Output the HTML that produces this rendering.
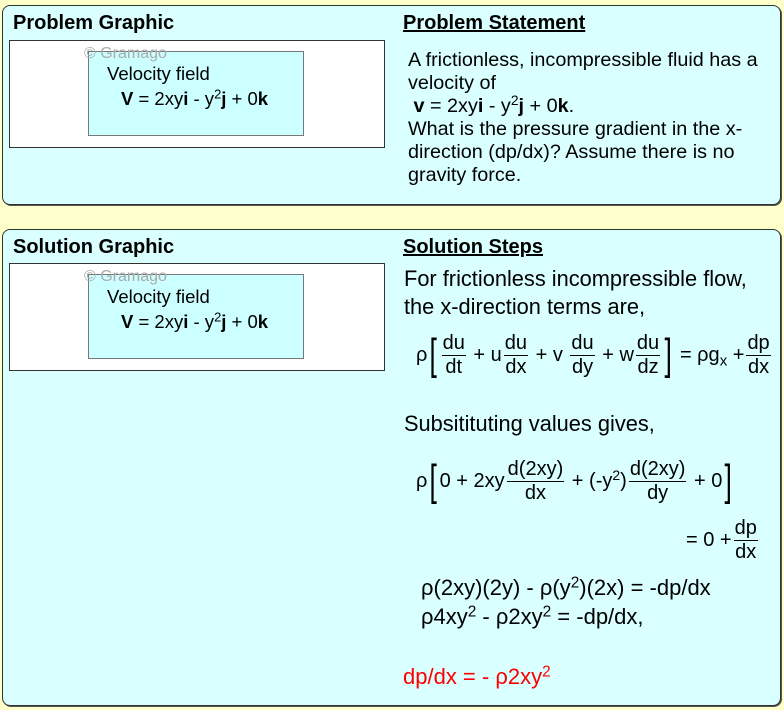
<!DOCTYPE html>
<html><head><meta charset="utf-8"><style>
body{margin:0;width:784px;height:710px;background:#ffffcc;position:relative;overflow:hidden;font-family:"Liberation Sans",sans-serif;color:#000}
.panel{position:absolute;left:2px;width:777px;background:#d9ffff;border:1.5px solid #333;border-radius:8px;box-shadow:1px 1px 0 #555}
.a{position:absolute;line-height:1;white-space:nowrap}
.h{font-weight:bold;font-size:20px}
.u{text-decoration:underline}
.wb{position:absolute;left:9px;width:374px;height:106px;background:#fff;border:1.5px solid #333}
.cb{position:absolute;left:88px;width:214px;height:83px;background:#ccffff;border:1px solid #777}
.row{position:absolute;display:flex;align-items:center;font-size:20px;line-height:1;white-space:nowrap}
.fr{display:inline-flex;flex-direction:column;align-items:center;margin:0 2px}
.fr span{padding:0 1px;line-height:1.12}
.fr .n{border-bottom:1.3px solid #000}
.br{font-size:44px;font-weight:100;transform:scaleX(.6);line-height:1}
sup{font-size:0.7em;vertical-align:0.5em;line-height:0}
sub{font-size:0.75em;vertical-align:-0.3em;line-height:0}
</style></head><body>
<div class="panel" style="top:5px;height:198px"></div>
<div class="panel" style="top:229px;height:475px"></div>

<div class="a h" style="left:13px;top:13px">Problem Graphic</div>
<div class="a h u" style="left:403px;top:13px">Problem Statement</div>
<div class="wb" style="top:40px"></div>
<div class="cb" style="top:51px"></div>
<div class="a" style="left:84px;top:46px;font-size:16px;color:#aaa">© Gramago</div>
<div class="a" style="left:107px;top:65px;font-size:18.5px">Velocity field</div>
<div class="a" style="left:121px;top:90px;font-size:18.5px"><b>V</b> = 2xy<b>i</b> - y<sup>2</sup><b>j</b> + 0<b>k</b></div>

<div class="a" style="left:408px;top:49px;font-size:19.8px;line-height:23px">A frictionless, incompressible fluid has a<br>velocity of<br>&nbsp;<b>v</b> = 2xy<b>i</b> - y<sup>2</sup><b>j</b> + 0<b>k</b>.<br>What is the pressure gradient in the x-<br>direction (dp/dx)? Assume there is no<br>gravity force.</div>

<div class="a h" style="left:13px;top:237px">Solution Graphic</div>
<div class="a h u" style="left:403px;top:237px">Solution Steps</div>
<div class="wb" style="top:263px"></div>
<div class="cb" style="top:274px"></div>
<div class="a" style="left:84px;top:269px;font-size:16px;color:#aaa">© Gramago</div>
<div class="a" style="left:107px;top:288px;font-size:18.5px">Velocity field</div>
<div class="a" style="left:121px;top:313px;font-size:18.5px"><b>V</b> = 2xy<b>i</b> - y<sup>2</sup><b>j</b> + 0<b>k</b></div>

<div class="a" style="left:404px;top:268px;font-size:21.8px">For frictionless incompressible flow,</div>
<div class="a" style="left:404px;top:296px;font-size:21.8px">the x-direction terms are,</div>

<div class="row" style="left:416px;top:330px;height:50px">ρ<span class="br">[</span><span class="fr"><span class="n">du</span><span>dt</span></span><span>&nbsp;+ u</span><span class="fr"><span class="n">du</span><span>dx</span></span><span>&nbsp;+ v&nbsp;</span><span class="fr"><span class="n">du</span><span>dy</span></span><span>&nbsp;+ w</span><span class="fr"><span class="n">du</span><span>dz</span></span><span class="br">]</span><span>&nbsp;= ρg<sub>x</sub>&nbsp;+</span><span class="fr"><span class="n">dp</span><span>dx</span></span></div>

<div class="a" style="left:404px;top:413px;font-size:21.8px">Subsitituting values gives,</div>

<div class="row" style="left:416px;top:456px;height:50px">ρ<span class="br">[</span><span>0 + 2xy</span><span class="fr"><span class="n">d(2xy)</span><span>dx</span></span><span>&nbsp;+ (-y<sup>2</sup>)</span><span class="fr"><span class="n">d(2xy)</span><span>dy</span></span><span>&nbsp;+ 0</span><span class="br">]</span></div>

<div class="row" style="left:686px;top:516px;height:48px"><span>= 0 +</span><span class="fr"><span class="n">dp</span><span>dx</span></span></div>

<div class="a" style="left:421px;top:577px;font-size:22px">ρ(2xy)(2y) - ρ(y<sup>2</sup>)(2x) = -dp/dx</div>
<div class="a" style="left:421px;top:606px;font-size:22px">ρ4xy<sup>2</sup> - ρ2xy<sup>2</sup> = -dp/dx,</div>
<div class="a" style="left:403px;top:666px;font-size:22px;color:#f00">dp/dx = - ρ2xy<sup>2</sup></div>
</body></html>
